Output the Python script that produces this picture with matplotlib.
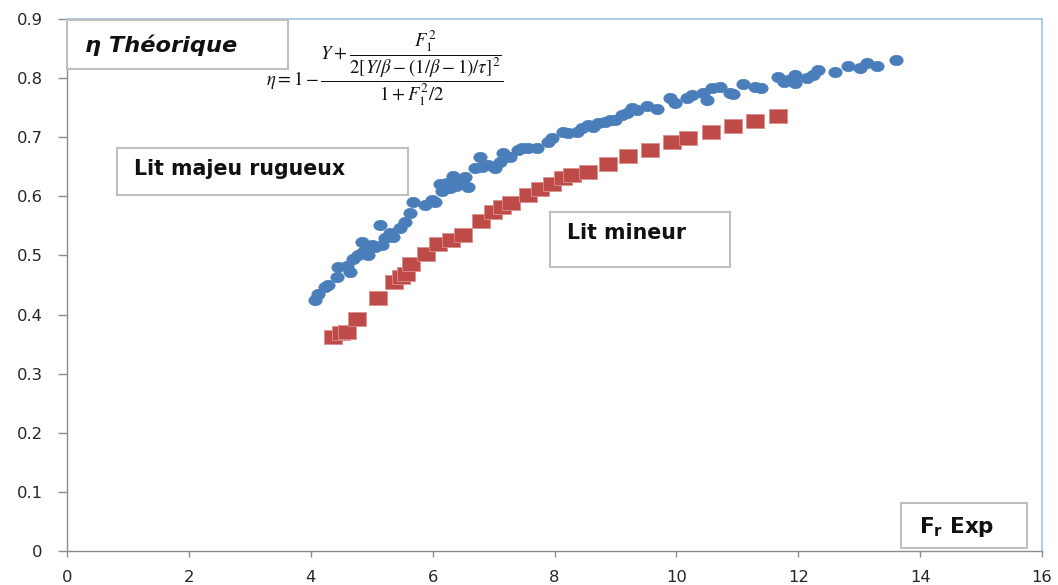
import matplotlib
matplotlib.use('Agg')
import matplotlib.pyplot as plt
from matplotlib.path import Path
from matplotlib.patches import Rectangle

# ---- data ----
majeur_fr = [4.070, 4.119, 4.234, 4.283, 4.431, 4.447, 4.595, 4.644, 4.693, 4.775,
             4.841, 4.857, 4.939, 5.005, 5.054, 5.136, 5.169, 5.218, 5.300, 5.350,
             5.464, 5.546, 5.628, 5.678, 5.875, 5.989, 6.039, 6.121, 6.154, 6.236,
             6.285, 6.334, 6.383, 6.416, 6.531, 6.580, 6.695, 6.777, 6.810, 6.908,
             7.023, 7.105, 7.155, 7.270, 7.401, 7.466, 7.565, 7.713, 7.893, 7.959,
             8.139, 8.221, 8.369, 8.451, 8.549, 8.631, 8.713, 8.828, 8.910, 8.992,
             9.107, 9.189, 9.271, 9.353, 9.518, 9.682, 9.895, 9.977, 10.174, 10.256,
             10.437, 10.502, 10.584, 10.716, 10.880, 10.929, 11.093, 11.290, 11.388, 11.667,
             11.766, 11.831, 11.946, 11.946, 12.143, 12.242, 12.324, 12.603, 12.816, 13.013,
             13.128, 13.292, 13.604]
majeur_eta = [0.425, 0.435, 0.447, 0.450, 0.464, 0.481, 0.482, 0.472, 0.494, 0.501,
              0.523, 0.506, 0.501, 0.518, 0.514, 0.552, 0.518, 0.530, 0.538, 0.531,
              0.547, 0.557, 0.572, 0.591, 0.586, 0.594, 0.591, 0.621, 0.609, 0.623,
              0.614, 0.635, 0.618, 0.628, 0.633, 0.616, 0.648, 0.667, 0.650, 0.653,
              0.648, 0.658, 0.673, 0.667, 0.679, 0.682, 0.682, 0.682, 0.692, 0.699,
              0.709, 0.707, 0.709, 0.716, 0.721, 0.717, 0.724, 0.726, 0.729, 0.729,
              0.738, 0.741, 0.750, 0.746, 0.753, 0.748, 0.767, 0.758, 0.767, 0.772,
              0.775, 0.763, 0.783, 0.785, 0.775, 0.773, 0.790, 0.785, 0.783, 0.802,
              0.794, 0.797, 0.805, 0.792, 0.800, 0.805, 0.814, 0.811, 0.821, 0.817,
              0.826, 0.821, 0.831]

mineur_fr = [4.365, 4.504, 4.595, 4.759, 5.103, 5.358, 5.481, 5.571, 5.653, 5.891,
             6.088, 6.301, 6.498, 6.794, 6.990, 7.138, 7.286, 7.565, 7.762, 7.959,
             8.139, 8.287, 8.549, 8.877, 9.214, 9.567, 9.928, 10.191, 10.568, 10.929,
             11.290, 11.668]
mineur_eta = [0.362, 0.368, 0.371, 0.392, 0.428, 0.455, 0.463, 0.469, 0.485, 0.503,
              0.519, 0.526, 0.535, 0.559, 0.574, 0.582, 0.589, 0.602, 0.613, 0.621,
              0.631, 0.636, 0.641, 0.654, 0.668, 0.679, 0.692, 0.699, 0.709, 0.719,
              0.728, 0.736]

x_ticks = [0, 2, 4, 6, 8, 10, 12, 14, 16]
x_ticklabels = ["0", "2", "4", "6", "8", "10", "12", "14", "16"]
y_ticks = [0, 0.1, 0.2, 0.3, 0.4, 0.5, 0.6, 0.7, 0.8, 0.9]
y_ticklabels = ["0", "0.1", "0.2", "0.3", "0.4", "0.5", "0.6", "0.7", "0.8", "0.9"]

title_text = "η Théorique"
label_majeur = "Lit majeu rugueux"
label_mineur = "Lit mineur"
label_x = r"$\mathbf{F_r}$ Exp"
formula = (r"$\eta = 1 - \dfrac{Y + \dfrac{F_1^2}{2[Y/\beta - (1/\beta - 1)/\tau]^2}}"
           r"{1 + F_1^2/2}$")

# ---- figure ----
W, H = 1058, 585
fig = plt.figure(figsize=(W / 100, H / 100), dpi=100)
fig.patch.set_facecolor('white')


def fx(px):
    return px / W


def fy(py):
    return 1 - py / H


ax = fig.add_axes([fx(67), fy(551), 975 / W, 532 / H])

circ = Path.unit_circle()
ellipse_marker = Path(circ.vertices * [1.0, 0.78], circ.codes)
rect_marker = Path([(-1, -0.76), (1, -0.76), (1, 0.76), (-1, 0.76), (-1, -0.76)],
                   [Path.MOVETO, Path.LINETO, Path.LINETO, Path.LINETO, Path.CLOSEPOLY])

ax.plot(majeur_fr, majeur_eta, linestyle='none', marker=ellipse_marker,
        markersize=9.6, color='#4a7ebb', markeredgecolor='#4a7ebb', markeredgewidth=0.5)
ax.plot(mineur_fr, mineur_eta, linestyle='none', marker=rect_marker,
        markersize=13.6, color='#be4b48', markeredgecolor='#d9908e', markeredgewidth=0.6)

ax.set_xlim(0, 16)
ax.set_ylim(0, 0.9)
ax.set_xticks(x_ticks)
ax.set_xticklabels(x_ticklabels)
ax.set_yticks(y_ticks)
ax.set_yticklabels(y_ticklabels)

ax.tick_params(axis='y', direction='out', length=6.5, width=1, pad=11,
               labelsize=11.8, color='#8c8c8c', labelcolor='#262626')
ax.tick_params(axis='x', direction='out', length=4, width=1, pad=10,
               labelsize=11.8, color='#8c8c8c', labelcolor='#262626')

for s in ('left', 'bottom'):
    ax.spines[s].set_color('#8c8c8c')
    ax.spines[s].set_linewidth(1.0)
for s in ('top', 'right'):
    ax.spines[s].set_color('#9dc3e6')
    ax.spines[s].set_linewidth(1.2)


def box(x0, y0, x1, y1):
    r = Rectangle((fx(x0), fy(y1)), (x1 - x0) / W, (y1 - y0) / H,
                  transform=fig.transFigure, facecolor='white',
                  edgecolor='#bfbfbf', linewidth=1.5, zorder=2)
    fig.add_artist(r)


box(67, 20, 288, 69)
box(117, 148, 408, 195)
box(550, 212, 730, 267)
box(901, 503, 1027, 548)

fig.text(fx(85), fy(45), title_text, fontsize=16.2, fontweight='bold', fontstyle='italic',
         ha='left', va='center', color='#111111', zorder=3)
fig.text(fx(134), fy(169), label_majeur, fontsize=14.8, fontweight='bold',
         ha='left', va='center', color='#111111', zorder=3)
fig.text(fx(567), fy(233), label_mineur, fontsize=14.8, fontweight='bold',
         ha='left', va='center', color='#111111', zorder=3)
fig.text(fx(919), fy(527), label_x, fontsize=15.5, fontweight='bold',
         ha='left', va='center', color='#111111', zorder=3)
fig.text(fx(266), fy(68), formula, fontsize=13.5, math_fontfamily='stix',
         ha='left', va='center', color='#111111', zorder=3)

fig.savefig('out.png', dpi=100, facecolor='white')
